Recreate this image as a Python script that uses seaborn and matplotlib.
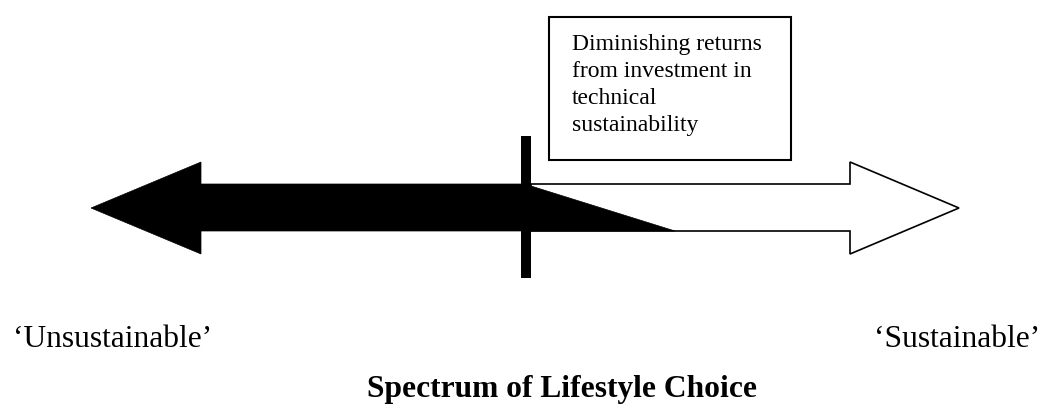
import matplotlib
matplotlib.use("Agg")
import matplotlib.pyplot as plt
import seaborn as sns
from matplotlib.patches import Polygon, Rectangle

# spectrum geometry (pixel units of the 1043x405 canvas)
arrow_y = 208
shaft_half = [24, 23]          # top/bottom half-height of the shaft
head_half = 46
left_tip_x = 91
left_head_x = 201
right_tip_x = 959
right_head_x = 850
marker_x = [521, 531]
marker_y = [136, 278]
wedge_end_x = 675

box_xy = [549, 17, 791, 160]
box_lines = ["Diminishing returns", "from investment in", "technical", "sustainability"]
end_labels = ["\u2018Unsustainable\u2019", "\u2018Sustainable\u2019"]
title = "Spectrum of Lifestyle Choice"


def main():
    sns.set_theme(style="white")
    plt.rcParams["font.family"] = ["Liberation Serif", "DejaVu Serif"]

    fig = plt.figure(figsize=(10.43, 4.05), dpi=100)
    ax = fig.add_axes([0, 0, 1, 1])
    ax.set_xlim(0, 1043)
    ax.set_ylim(405, 0)
    ax.axis("off")

    top = arrow_y - shaft_half[0]
    bot = arrow_y + shaft_half[1]

    # black arrow pointing to 'Unsustainable'
    left = [
        (left_tip_x, arrow_y),
        (left_head_x, arrow_y - head_half),
        (left_head_x, top),
        (marker_x[0], top),
        (marker_x[0], bot),
        (left_head_x, bot),
        (left_head_x, arrow_y + head_half),
    ]
    ax.add_patch(Polygon(left, closed=True, fc="black", ec="black", lw=0.5))

    # open arrow pointing to 'Sustainable'
    right = [
        (marker_x[1], top),
        (right_head_x, top),
        (right_head_x, arrow_y - head_half),
        (right_tip_x, arrow_y),
        (right_head_x, arrow_y + head_half),
        (right_head_x, bot),
        (marker_x[1], bot),
    ]
    ax.add_patch(Polygon(right, closed=True, fc="white", ec="black", lw=1.2, joinstyle="miter"))

    # tapering black wedge
    wedge = [(marker_x[1], top + 2), (wedge_end_x, bot), (marker_x[1], bot)]
    ax.add_patch(Polygon(wedge, closed=True, fc="black", ec="black", lw=0.5))

    # vertical marker
    ax.add_patch(Rectangle((marker_x[0], marker_y[0]), marker_x[1] - marker_x[0],
                           marker_y[1] - marker_y[0], fc="black", ec="none"))

    # text box
    x0, y0, x1, y1 = box_xy
    ax.add_patch(Rectangle((x0, y0), x1 - x0, y1 - y0, fc="white", ec="black", lw=1.5))
    ax.text(572, 34, "\n".join(box_lines), fontsize=17, va="top", ha="left",
            linespacing=1.37, color="black")

    ax.text(13, 347, end_labels[0], fontsize=22.7, va="baseline", ha="left", color="black")
    ax.text(1040, 347, end_labels[1], fontsize=22.7, va="baseline", ha="right", color="black")
    ax.text(562, 397, title, fontsize=22.7, fontweight="bold", va="baseline",
            ha="center", color="black")

    fig.savefig("out.png", dpi=100)


if __name__ == "__main__":
    main()
